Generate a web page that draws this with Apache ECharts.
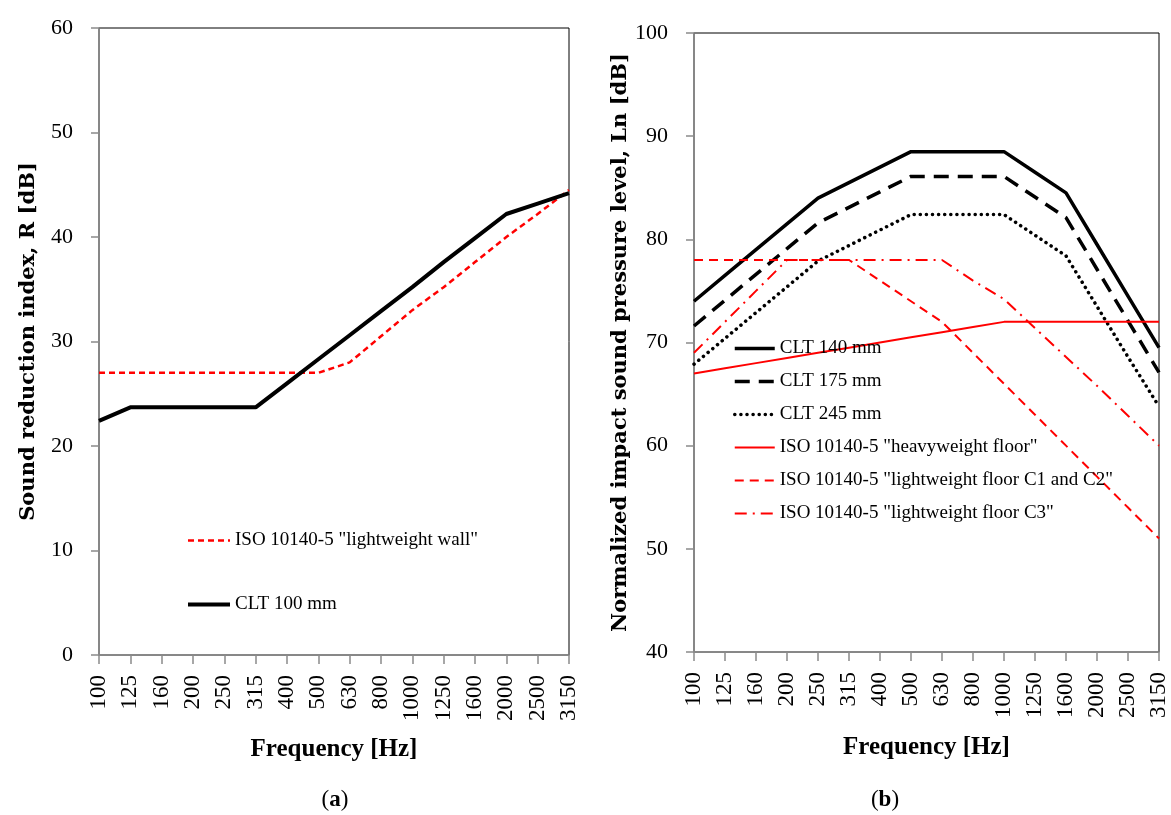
<!DOCTYPE html>
<html>
<head>
<meta charset="utf-8">
<script src="https://cdn.jsdelivr.net/npm/echarts@6/dist/echarts.min.js"></script>
<style>
  html, body { margin: 0; padding: 0; background: #fff; }
  #chart { width: 1171px; height: 815px; }
</style>
</head>
<body>
<div id="chart"></div>
<script>
// frequency bands (Hz)
const freqs = ['100', '125', '160', '200', '250', '315', '400', '500', '630', '800', '1000', '1250', '1600', '2000', '2500', '3150'];

// (a) sound reduction index R [dB]
const isoWall = [27, 27, 27, 27, 27, 27, 27, 27, 28, 30.5, 33, 35.2, 37.6, 40, 42.2, 44.5];
const clt100 = [22.4, 23.7, 23.7, 23.7, 23.7, 23.7, 26.0, 28.3, 30.6, 32.9, 35.2, 37.6, 39.9, 42.2, 43.2, 44.2];

// (b) normalized impact sound pressure level Ln [dB]
const clt140 = [74, 76.5, 79, 81.5, 84, 85.5, 87, 88.5, 88.5, 88.5, 88.5, 86.5, 84.5, 79.5, 74.5, 69.5];
const clt175 = [71.6, 74.1, 76.6, 79.1, 81.6, 83.1, 84.6, 86.1, 86.1, 86.1, 86.1, 84.1, 82.1, 77.1, 72.1, 67.1];
const clt245 = [67.9, 70.4, 72.9, 75.4, 77.9, 79.4, 80.9, 82.4, 82.4, 82.4, 82.4, 80.4, 78.4, 73.5, 68.6, 63.8];
const isoHeavy = [67, 67.5, 68, 68.5, 69, 69.5, 70, 70.5, 71, 71.5, 72, 72, 72, 72, 72, 72];
const isoLightC12 = [78, 78, 78, 78, 78, 78, 76, 74, 72, 69, 66, 63, 60, 57, 54, 51];
const isoLightC3 = [69, 72, 75, 78, 78, 78, 78, 78, 78, 76, 74.2, 71.4, 68.6, 65.8, 62.9, 60];

const yTicksA = { min: 0, max: 60, interval: 10 };
const yTicksB = { min: 40, max: 100, interval: 10 };

const FONT = 'Liberation Serif';
const TITLE_FONT = 'DejaVu Serif';
const GREY = '#8a8a8a';

function xAxis(gridIndex, gap) {
  return {
    type: 'category',
    gridIndex: gridIndex,
    data: freqs,
    boundaryGap: false,
    name: 'Frequency [Hz]',
    nameLocation: 'middle',
    nameGap: gap,
    nameTextStyle: { fontFamily: FONT, fontWeight: 'bold', fontSize: 25, color: '#000' },
    axisLine: { lineStyle: { color: GREY, width: 1.5 } },
    axisTick: { show: true, length: 9, interval: 0, lineStyle: { color: GREY, width: 1.5 } },
    axisLabel: { interval: 0, rotate: 90, margin: 20, fontFamily: FONT, fontSize: 23, color: '#000' },
    splitLine: { show: false }
  };
}

function yAxis(gridIndex, ticks, title, gap) {
  return {
    type: 'value',
    gridIndex: gridIndex,
    min: ticks.min,
    max: ticks.max,
    interval: ticks.interval,
    name: title,
    nameLocation: 'middle',
    nameGap: gap,
    nameTextStyle: { fontFamily: TITLE_FONT, fontWeight: 'bold', fontSize: 21, color: '#000' },
    axisLine: { show: true, lineStyle: { color: GREY, width: 1.5 } },
    axisTick: { show: true, length: 8, lineStyle: { color: GREY, width: 1.5 } },
    axisLabel: { margin: 26, fontFamily: FONT, fontSize: 22, color: '#000' },
    splitLine: { show: false }
  };
}

function line(name, data, idx, color, width, type, cap) {
  return {
    name: name,
    type: 'line',
    xAxisIndex: idx,
    yAxisIndex: idx,
    data: data,
    symbol: 'none',
    itemStyle: { color: 'rgba(0,0,0,0)' },
    lineStyle: { color: color, width: width, type: type, cap: cap || 'butt' },
    emphasis: { disabled: true }
  };
}

const legendText = { fontFamily: FONT, fontSize: 19, color: '#000' };

const myChart = echarts.init(document.getElementById('chart'));

myChart.setOption({
  animation: false,
  backgroundColor: '#fff',
  grid: [
    { left: 99, top: 28, width: 470, height: 627, show: true, borderColor: '#000', borderWidth: 1 },
    { left: 694, top: 33, width: 465, height: 619, show: true, borderColor: '#000', borderWidth: 1 }
  ],
  xAxis: [xAxis(0, 82), xAxis(1, 83)],
  yAxis: [
    yAxis(0, yTicksA, 'Sound reduction index, R [dB]', 60),
    yAxis(1, yTicksB, 'Normalized impact sound pressure level, Ln [dB]', 62)
  ],
  legend: [
    {
      orient: 'vertical',
      left: 186,
      top: 531,
      padding: 0,
      itemWidth: 42,
      itemHeight: 14,
      itemGap: 45,
      textStyle: legendText,
      lineStyle: { width: 'inherit' },
      itemStyle: { opacity: 0 },
      data: ['ISO 10140-5 "lightweight wall"', 'CLT 100 mm']
    },
    {
      orient: 'vertical',
      left: 733,
      top: 339,
      padding: 0,
      itemWidth: 40,
      itemHeight: 14,
      itemGap: 14,
      textStyle: legendText,
      lineStyle: { width: 'inherit' },
      itemStyle: { opacity: 0 },
      data: ['CLT 140 mm', 'CLT 175 mm', 'CLT 245 mm',
        'ISO 10140-5 "heavyweight floor"',
        'ISO 10140-5 "lightweight floor C1 and C2"',
        'ISO 10140-5 "lightweight floor C3"']
    }
  ],
  graphic: [
    {
      type: 'text', x: 335, y: 800,
      style: {
        text: '{p|(}{b|a}{p|)}', align: 'center', verticalAlign: 'middle',
        rich: {
          p: { fontFamily: FONT, fontSize: 23, fill: '#000' },
          b: { fontFamily: FONT, fontSize: 23, fontWeight: 'bold', fill: '#000' }
        }
      }
    },
    {
      type: 'text', x: 885, y: 800,
      style: {
        text: '{p|(}{b|b}{p|)}', align: 'center', verticalAlign: 'middle',
        rich: {
          p: { fontFamily: FONT, fontSize: 23, fill: '#000' },
          b: { fontFamily: FONT, fontSize: 23, fontWeight: 'bold', fill: '#000' }
        }
      }
    }
  ],
  series: [
    line('ISO 10140-5 "lightweight wall"', isoWall, 0, '#ff0000', 2.5, [6, 4]),
    line('CLT 100 mm', clt100, 0, '#000000', 4, 'solid'),
    line('CLT 140 mm', clt140, 1, '#000000', 3.5, 'solid'),
    line('CLT 175 mm', clt175, 1, '#000000', 3.5, [15, 9]),
    line('CLT 245 mm', clt245, 1, '#000000', 3.5, [0.1, 6], 'round'),
    line('ISO 10140-5 "heavyweight floor"', isoHeavy, 1, '#ff0000', 2, 'solid'),
    line('ISO 10140-5 "lightweight floor C1 and C2"', isoLightC12, 1, '#ff0000', 2, [9, 6]),
    line('ISO 10140-5 "lightweight floor C3"', isoLightC3, 1, '#ff0000', 2, [12, 6, 2, 6])
  ]
});
</script>
</body>
</html>
